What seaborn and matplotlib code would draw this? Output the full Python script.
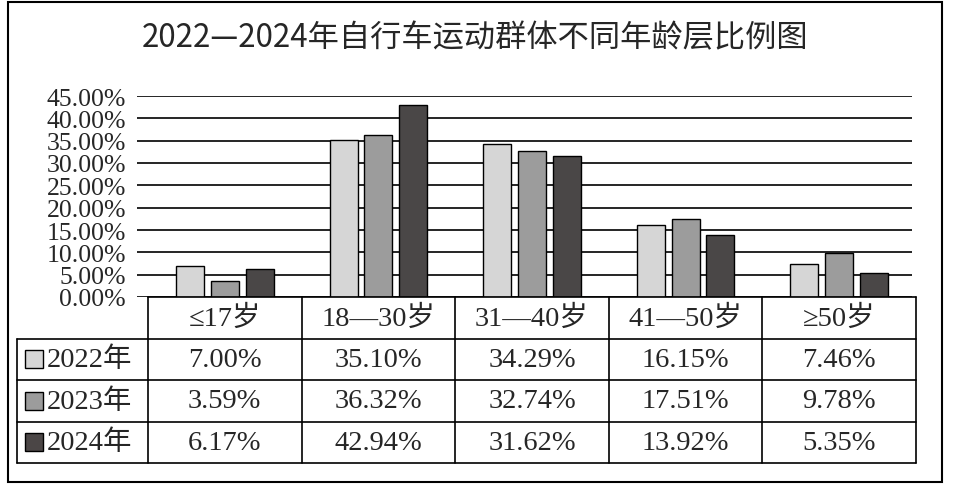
import numpy as np
import pandas as pd
import matplotlib
matplotlib.use("Agg")
import matplotlib.pyplot as plt
import seaborn as sns
from matplotlib.patches import Rectangle

title = "2022—2024年自行车运动群体不同年龄层比例图"
age_groups = ["≤17岁", "18—30岁", "31—40岁", "41—50岁", "≥50岁"]
years = ["2022年", "2023年", "2024年"]
share_2022 = [7.00, 35.10, 34.29, 16.15, 7.46]
share_2023 = [3.59, 36.32, 32.74, 17.51, 9.78]
share_2024 = [6.17, 42.94, 31.62, 13.92, 5.35]
yticks = [0, 5, 10, 15, 20, 25, 30, 35, 40, 45]
colors = ["#d6d6d6", "#9c9c9c", "#4b4646"]

series = [share_2022, share_2023, share_2024]
df = pd.DataFrame({
    "age": age_groups * 3,
    "year": np.repeat(years, len(age_groups)),
    "share": share_2022 + share_2023 + share_2024,
})

sns.set_style("white")
serif = ["Liberation Serif", "Noto Sans CJK SC"]
plt.rcParams["font.family"] = serif

W, H = 957, 489
fig = plt.figure(figsize=(W / 100, H / 100), dpi=100)


def fx(px):
    return px / W


def fy(py):
    return 1 - py / H


col_w = (916 - 148) / 5

# bar chart
ax = fig.add_axes([fx(137), fy(298), fx(912) - fx(137), fy(97) - fy(298)])
sns.barplot(data=df, x="age", y="share", hue="year", palette=colors,
            width=0.68, gap=0.2, edgecolor="black", linewidth=1,
            ax=ax, legend=False)
ax.set_xlim(-0.5 - 11 / col_w, -0.5 + (912 - 148) / col_w)
ax.set_ylim(0, 45)
ax.set_yticks(yticks)
ax.set_yticklabels([f"{v:.2f}%" for v in yticks])
ax.grid(axis="y", color="black", lw=1.2)
ax.grid(axis="x", visible=False)
ax.set_axisbelow(True)
for s in ax.spines.values():
    s.set_visible(False)
ax.tick_params(axis="y", length=0, pad=8, labelsize=18.5)
ax.tick_params(axis="x", length=0, labelbottom=False)
ax.set_xlabel("")
ax.set_ylabel("")

# data table
tax = fig.add_axes([fx(17), fy(464), fx(916) - fx(17), fy(298) - fy(464)])
xl = -0.5 - (148 - 17) / col_w
xr = 4.5
tax.set_xlim(xl, xr)
tax.set_ylim(4, 0)
tax.axis("off")
lw = 1.2
tax.plot([-0.5, xr], [0, 0], color="black", lw=lw, clip_on=False)
for r in range(1, 5):
    tax.plot([xl, xr], [r, r], color="black", lw=lw, clip_on=False)
for k in range(6):
    tax.plot([-0.5 + k, -0.5 + k], [0, 4], color="black", lw=lw, clip_on=False)
tax.plot([xl, xl], [1, 4], color="black", lw=lw, clip_on=False)

for i, g in enumerate(age_groups):
    tax.text(i, 0.5, g, ha="center", va="center", fontsize=20.5)
for r, (yr, vals) in enumerate(zip(years, series)):
    for i, v in enumerate(vals):
        tax.text(i, r + 1.5, f"{v:.2f}%", ha="center", va="center", fontsize=20.5)
    sq_w = 18 / col_w
    sq_h = 18 / ((464 - 298) / 4)
    tax.add_patch(Rectangle((xl + 8 / col_w, r + 1.5 - sq_h / 2), sq_w, sq_h,
                            facecolor=colors[r], edgecolor="black", lw=1,
                            clip_on=False))
    tax.text(xl + 30 / col_w, r + 1.5, yr, ha="left", va="center", fontsize=20.5)

# outer frame and title
fig.add_artist(Rectangle((fx(8), fy(483)), fx(942) - fx(8), fy(3) - fy(483),
                         transform=fig.transFigure, fill=False, lw=1.5,
                         ec="black"))
fig.text(fx(475), fy(38), title, ha="center", va="center", fontsize=22.5,
         family="Noto Sans CJK SC")

fig.savefig("out.png", dpi=100)
